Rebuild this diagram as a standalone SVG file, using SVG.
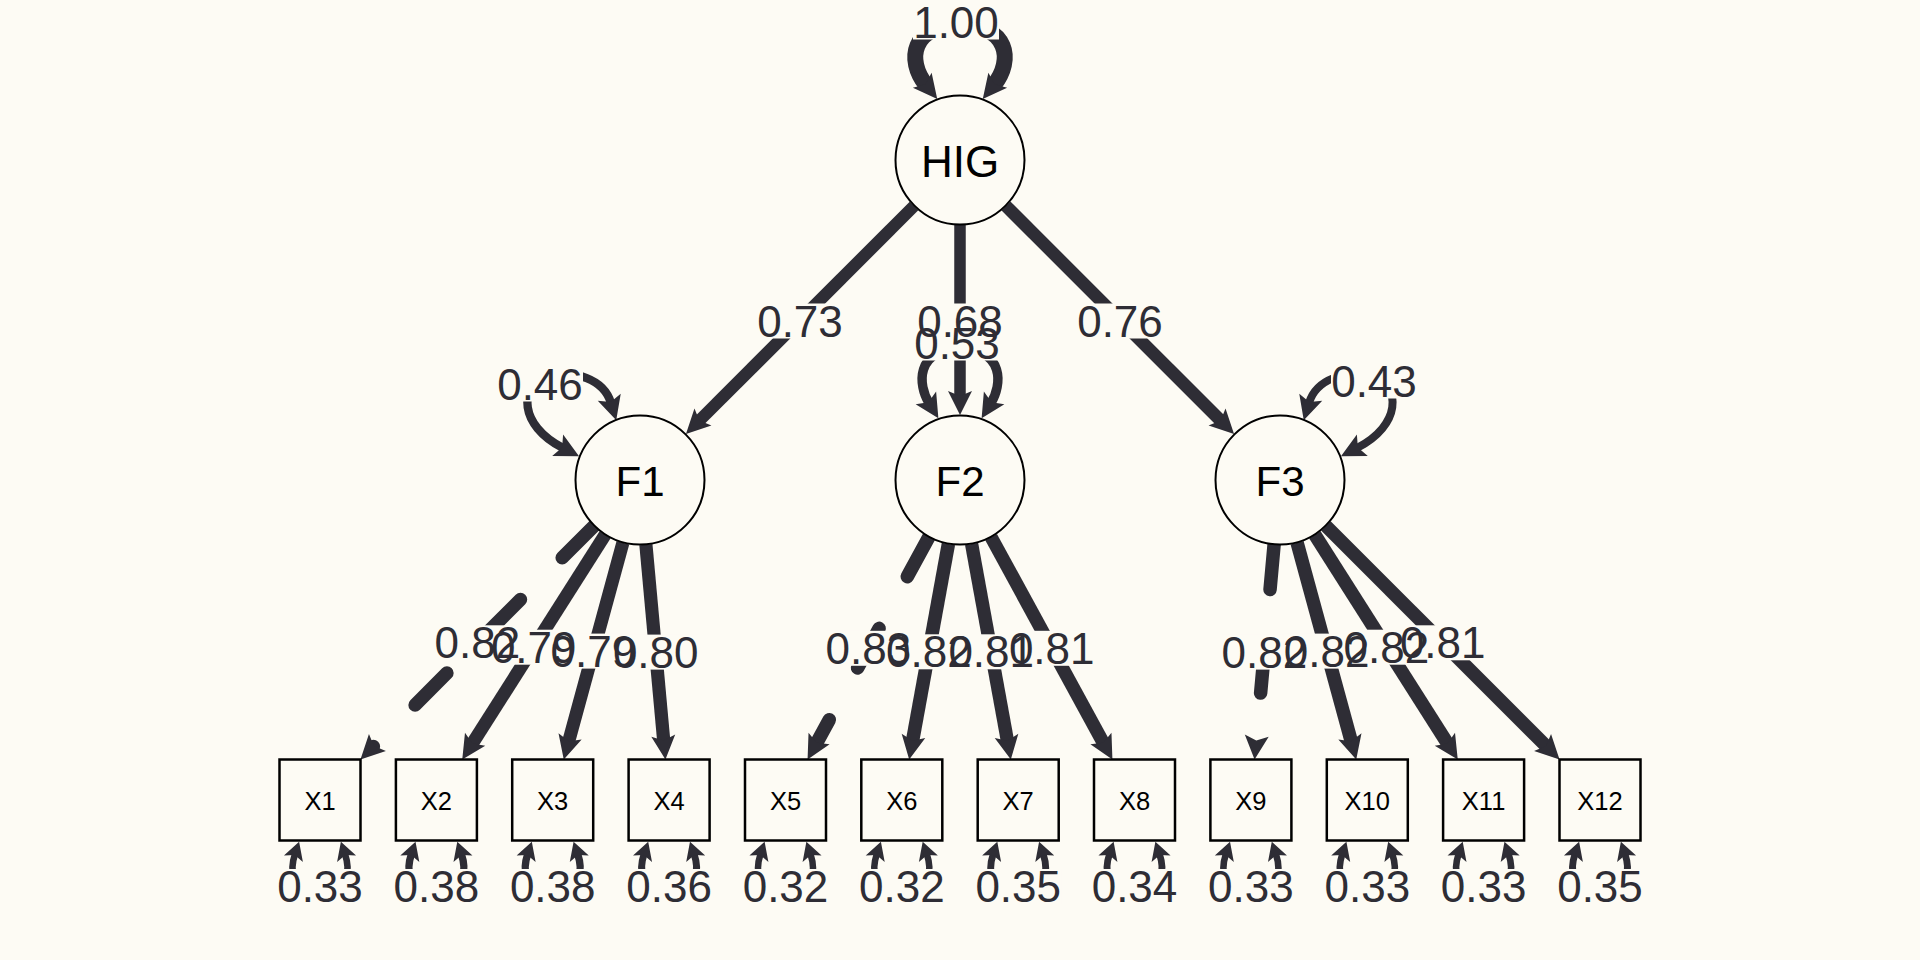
<svg xmlns="http://www.w3.org/2000/svg" width="1920" height="960" viewBox="0 0 1920 960">
<defs>
<style>
.e{fill:none;stroke:#2e2d35;stroke-linecap:butt;marker-end:url(#ah)}
.d{stroke-dasharray:45 59;stroke-linecap:round}
.lp{fill:none;stroke:#2e2d35;marker-start:url(#ah);marker-end:url(#ah)}
.rs{fill:none;stroke:#2e2d35;marker-start:url(#as);marker-end:url(#as)}
.lb{fill:#fdfbf4}
.lt{font-family:"Liberation Sans",Arial,Helvetica,sans-serif;font-size:44px;fill:#2e2d35;text-anchor:middle}
.nc{fill:#fdfbf4;stroke:#000;stroke-width:2}
.nb{fill:#fdfbf4;stroke:#000;stroke-width:2.5}
.nt{font-family:"Liberation Sans",Arial,Helvetica,sans-serif;fill:#000;text-anchor:middle}
</style>
<marker id="ah" viewBox="-30 -15 34 30" refX="-18" refY="0" markerWidth="34" markerHeight="30" markerUnits="userSpaceOnUse" orient="auto-start-reverse" overflow="visible">
<path d="M0 0 L-24 -12 L-19 0 L-24 12 Z" fill="#2e2d35"/>
</marker>
<marker id="as" viewBox="-24 -12 28 24" refX="-13" refY="0" markerWidth="28" markerHeight="24" markerUnits="userSpaceOnUse" orient="auto-start-reverse" overflow="visible">
<path d="M0 0 L-18 -10 L-14 0 L-18 10 Z" fill="#2e2d35"/>
</marker>
</defs>
<rect x="0" y="0" width="1920" height="960" fill="#fdfbf4"/>

<g id="connectors">
<!-- HIG variance -->
<path class="lp" stroke-width="16" d="M926 85 C906 60 912 25 960 25 C1008 25 1014 60 994 85"/>
<!-- second-order loadings -->
<path class="e" stroke-width="12.2" d="M914 206 L698.7 421.3"/>
<path class="e" stroke-width="11.5" d="M960 225 L960 397"/>
<path class="e" stroke-width="12.6" d="M1006 206 L1221.3 421.3"/>
<!-- factor variances -->
<path class="lp" stroke-width="8.4" d="M611 403 C604 380 575 368 545 378 C520 386 518 425 563 448"/>
<path class="lp" stroke-width="9.4" d="M929 403 C918 385 915 350 960 348 C1005 350 1002 385 991 403"/>
<path class="lp" stroke-width="8" d="M1309 403 C1316 380 1345 368 1375 378 C1400 386 1402 425 1357 448"/>
<!-- F1 loadings -->
<path class="e d" stroke-width="13.5" d="M594 526 L373.2 746.8"/>
<path class="e" stroke-width="13.1" d="M605.1 534.8 L471.9 744.3"/>
<path class="e" stroke-width="13.1" d="M622.9 542.7 L568.5 742.1"/>
<path class="e" stroke-width="13.2" d="M645.9 544.7 L663.8 741.6"/>
<!-- F2 loadings -->
<path class="e d" stroke-width="13.6" d="M928.9 537.1 L816.2 743.7"/>
<path class="e" stroke-width="13.5" d="M948.4 544 L912.4 741.8"/>
<path class="e" stroke-width="13.3" d="M971.6 544 L1007.6 741.8"/>
<path class="e" stroke-width="13.3" d="M991.1 537.1 L1103.8 743.7"/>
<!-- F3 loadings -->
<path class="e d" stroke-width="13.5" d="M1274.1 544.7 L1256.2 741.6"/>
<path class="e" stroke-width="13.5" d="M1297.1 542.7 L1351.5 742.1"/>
<path class="e" stroke-width="13.5" d="M1314.9 534.8 L1448.1 744.3"/>
<path class="e" stroke-width="13.3" d="M1326 526 L1546.8 746.8"/>
<!-- residual variances -->
<path class="rs" stroke-width="6.6" d="M295 854 C291 866 288 892 320 892 C352 892 349 866 345 854"/>
<path class="rs" stroke-width="7.3" d="M411.4 854 C407.4 866 404.4 892 436.4 892 C468.4 892 465.4 866 461.4 854"/>
<path class="rs" stroke-width="7.3" d="M527.7 854 C523.7 866 520.7 892 552.7 892 C584.7 892 581.7 866 577.7 854"/>
<path class="rs" stroke-width="7" d="M644.1 854 C640.1 866 637.1 892 669.1 892 C701.1 892 698.1 866 694.1 854"/>
<path class="rs" stroke-width="6.5" d="M760.5 854 C756.5 866 753.5 892 785.5 892 C817.5 892 814.5 866 810.5 854"/>
<path class="rs" stroke-width="6.5" d="M876.8 854 C872.8 866 869.8 892 901.8 892 C933.8 892 930.8 866 926.8 854"/>
<path class="rs" stroke-width="6.9" d="M993.2 854 C989.2 866 986.2 892 1018.2 892 C1050.2 892 1047.2 866 1043.2 854"/>
<path class="rs" stroke-width="6.8" d="M1109.5 854 C1105.5 866 1102.5 892 1134.5 892 C1166.5 892 1163.5 866 1159.5 854"/>
<path class="rs" stroke-width="6.6" d="M1225.9 854 C1221.9 866 1218.9 892 1250.9 892 C1282.9 892 1279.9 866 1275.9 854"/>
<path class="rs" stroke-width="6.6" d="M1342.3 854 C1338.3 866 1335.3 892 1367.3 892 C1399.3 892 1396.3 866 1392.3 854"/>
<path class="rs" stroke-width="6.6" d="M1458.6 854 C1454.6 866 1451.6 892 1483.6 892 C1515.6 892 1512.6 866 1508.6 854"/>
<path class="rs" stroke-width="6.9" d="M1575 854 C1571 866 1568 892 1600 892 C1632 892 1629 866 1625 854"/>
</g>

<g id="node-HIG"><circle class="nc" cx="960" cy="160" r="64.5"/><text class="nt" x="960" y="176.5" font-size="44">HIG</text></g>
<g id="node-F1"><circle class="nc" cx="640" cy="480" r="64.5"/><text class="nt" x="640" y="496" font-size="42">F1</text></g>
<g id="node-F2"><circle class="nc" cx="960" cy="480" r="64.5"/><text class="nt" x="960" y="496" font-size="42">F2</text></g>
<g id="node-F3"><circle class="nc" cx="1280" cy="480" r="64.5"/><text class="nt" x="1280" y="496" font-size="42">F3</text></g>
<g id="node-X1"><rect class="nb" x="279.5" y="759.5" width="81" height="81"/><text class="nt" x="320" y="810" font-size="25.5">X1</text></g>
<g id="node-X2"><rect class="nb" x="395.9" y="759.5" width="81" height="81"/><text class="nt" x="436.4" y="810" font-size="25.5">X2</text></g>
<g id="node-X3"><rect class="nb" x="512.2" y="759.5" width="81" height="81"/><text class="nt" x="552.7" y="810" font-size="25.5">X3</text></g>
<g id="node-X4"><rect class="nb" x="628.6" y="759.5" width="81" height="81"/><text class="nt" x="669.1" y="810" font-size="25.5">X4</text></g>
<g id="node-X5"><rect class="nb" x="745" y="759.5" width="81" height="81"/><text class="nt" x="785.5" y="810" font-size="25.5">X5</text></g>
<g id="node-X6"><rect class="nb" x="861.3" y="759.5" width="81" height="81"/><text class="nt" x="901.8" y="810" font-size="25.5">X6</text></g>
<g id="node-X7"><rect class="nb" x="977.7" y="759.5" width="81" height="81"/><text class="nt" x="1018.2" y="810" font-size="25.5">X7</text></g>
<g id="node-X8"><rect class="nb" x="1094" y="759.5" width="81" height="81"/><text class="nt" x="1134.5" y="810" font-size="25.5">X8</text></g>
<g id="node-X9"><rect class="nb" x="1210.4" y="759.5" width="81" height="81"/><text class="nt" x="1250.9" y="810" font-size="25.5">X9</text></g>
<g id="node-X10"><rect class="nb" x="1326.8" y="759.5" width="81" height="81"/><text class="nt" x="1367.3" y="810" font-size="25.5">X10</text></g>
<g id="node-X11"><rect class="nb" x="1443.1" y="759.5" width="81" height="81"/><text class="nt" x="1483.6" y="810" font-size="25.5">X11</text></g>
<g id="node-X12"><rect class="nb" x="1559.5" y="759.5" width="81" height="81"/><text class="nt" x="1600" y="810" font-size="25.5">X12</text></g>

<g id="edge-label-backgrounds">
<rect class="lb" x="913" y="4.5" width="86" height="35"/>
<rect class="lb" x="757" y="303.5" width="86" height="35"/>
<rect class="lb" x="917" y="303.5" width="86" height="35"/>
<rect class="lb" x="1077" y="303.5" width="86" height="35"/>
<rect class="lb" x="914" y="325.5" width="86" height="35"/>
<rect class="lb" x="497" y="366.5" width="86" height="35"/>
<rect class="lb" x="1331" y="363.5" width="86" height="35"/>
<rect class="lb" x="434.3" y="625.3" width="86" height="35"/>
<rect class="lb" x="490.7" y="629.7" width="86" height="35"/>
<rect class="lb" x="550.4" y="633.6" width="86" height="35"/>
<rect class="lb" x="612.7" y="634.6" width="86" height="35"/>
<rect class="lb" x="825.3" y="630.8" width="86" height="35"/>
<rect class="lb" x="885.8" y="634.3" width="86" height="35"/>
<rect class="lb" x="948.2" y="634.3" width="86" height="35"/>
<rect class="lb" x="1008.7" y="630.8" width="86" height="35"/>
<rect class="lb" x="1221.4" y="634.6" width="86" height="35"/>
<rect class="lb" x="1283.6" y="633.6" width="86" height="35"/>
<rect class="lb" x="1343.3" y="629.7" width="86" height="35"/>
<rect class="lb" x="1399.7" y="625.3" width="86" height="35"/>
<rect class="lb" x="277" y="869" width="86" height="35"/>
<rect class="lb" x="393.4" y="869" width="86" height="35"/>
<rect class="lb" x="509.7" y="869" width="86" height="35"/>
<rect class="lb" x="626.1" y="869" width="86" height="35"/>
<rect class="lb" x="742.5" y="869" width="86" height="35"/>
<rect class="lb" x="858.8" y="869" width="86" height="35"/>
<rect class="lb" x="975.2" y="869" width="86" height="35"/>
<rect class="lb" x="1091.5" y="869" width="86" height="35"/>
<rect class="lb" x="1207.9" y="869" width="86" height="35"/>
<rect class="lb" x="1324.3" y="869" width="86" height="35"/>
<rect class="lb" x="1440.6" y="869" width="86" height="35"/>
<rect class="lb" x="1557" y="869" width="86" height="35"/>
</g>

<g id="edge-labels">
<text class="lt" x="956" y="37.5">1.00</text>
<text class="lt" x="800" y="336.5">0.73</text>
<text class="lt" x="960" y="336.5">0.68</text>
<text class="lt" x="1120" y="336.5">0.76</text>
<text class="lt" x="957" y="358.5">0.53</text>
<text class="lt" x="540" y="399.5">0.46</text>
<text class="lt" x="1374" y="396.5">0.43</text>
<text class="lt" x="477.3" y="658.3">0.82</text>
<text class="lt" x="533.7" y="662.7">0.79</text>
<text class="lt" x="593.4" y="666.6">0.79</text>
<text class="lt" x="655.7" y="667.6">0.80</text>
<text class="lt" x="868.3" y="663.8">0.83</text>
<text class="lt" x="928.8" y="667.3">0.82</text>
<text class="lt" x="991.2" y="667.3">0.81</text>
<text class="lt" x="1051.7" y="663.8">0.81</text>
<text class="lt" x="1264.4" y="667.6">0.82</text>
<text class="lt" x="1326.6" y="666.6">0.82</text>
<text class="lt" x="1386.3" y="662.7">0.82</text>
<text class="lt" x="1442.7" y="658.3">0.81</text>
<text class="lt" x="320" y="902">0.33</text>
<text class="lt" x="436.4" y="902">0.38</text>
<text class="lt" x="552.7" y="902">0.38</text>
<text class="lt" x="669.1" y="902">0.36</text>
<text class="lt" x="785.5" y="902">0.32</text>
<text class="lt" x="901.8" y="902">0.32</text>
<text class="lt" x="1018.2" y="902">0.35</text>
<text class="lt" x="1134.5" y="902">0.34</text>
<text class="lt" x="1250.9" y="902">0.33</text>
<text class="lt" x="1367.3" y="902">0.33</text>
<text class="lt" x="1483.6" y="902">0.33</text>
<text class="lt" x="1600" y="902">0.35</text>
</g>
</svg>
